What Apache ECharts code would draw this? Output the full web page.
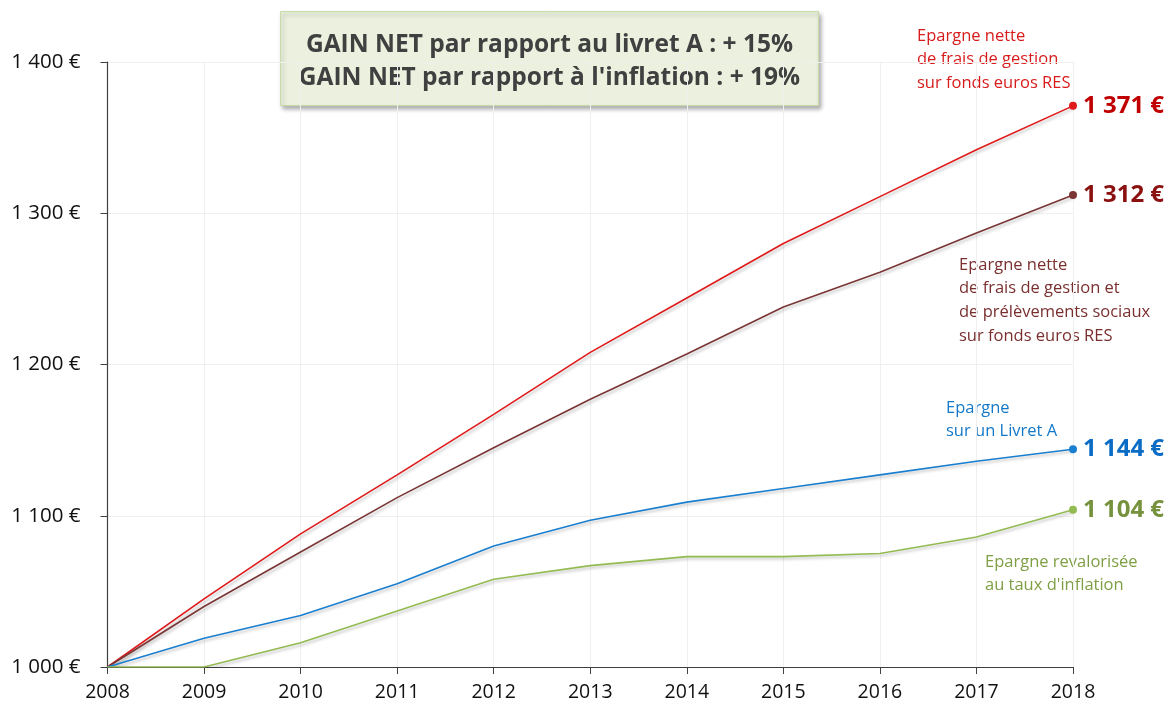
<!DOCTYPE html>
<html>
<head>
<meta charset="utf-8">
<script src="https://cdn.jsdelivr.net/npm/echarts@6/dist/echarts.min.js"></script>
<style>
    html, body { margin: 0; padding: 0; background: #fff; }
    #myEchart { width: 1176px; height: 707px; }
</style>
</head>
<body>
<div id="myEchart"></div>
<script>
var years = ['2008', '2009', '2010', '2011', '2012', '2013', '2014', '2015', '2016', '2017', '2018'];
var fondsEuros = [1000, 1045, 1088, 1127, 1167, 1208, 1244, 1280, 1311, 1342, 1371];
var fondsEurosNet = [1000, 1040, 1076, 1112, 1145, 1177, 1207, 1238, 1261, 1287, 1312];
var livretA = [1000, 1019, 1034, 1055, 1080, 1097, 1109, 1118, 1127, 1136, 1144];
var inflation = [1000, 1000, 1016, 1037, 1058, 1067, 1073, 1073, 1075, 1086, 1104];
var yTicks = [1000, 1100, 1200, 1300, 1400];

var font = 'Open Sans';

// 1371 -> "1 371 €"
function euro(v) {
    var s = String(Math.round(v));
    return s.replace(/\B(?=(\d{3})+(?!\d))/g, ' ') + ' €';
}

function makeSeries(name, data, lineColor, labelColor) {
    var last = data.length - 1;
    return {
        name: name,
        type: 'line',
        data: data,
        symbol: 'circle',
        showAllSymbol: true,
        symbolSize: function (v, p) {
            return p.dataIndex === last ? 8 : 0;
        },
        itemStyle: { color: lineColor },
        lineStyle: {
            color: lineColor,
            width: 1.6,
            shadowColor: 'rgba(0,0,0,0.25)',
            shadowBlur: 3,
            shadowOffsetX: 2,
            shadowOffsetY: 2
        },
        endLabel: {
            show: true,
            distance: 10,
            formatter: function (p) { return euro(p.value); },
            color: labelColor,
            fontFamily: font,
            fontWeight: 'bold',
            fontSize: 24
        },
        animation: false
    };
}

function note(lines, x, y, color) {
    return {
        type: 'text',
        left: x,
        top: y,
        style: {
            text: lines.join('\n'),
            fill: color,
            fontFamily: font,
            fontSize: 16.5,
            lineHeight: 23.8
        }
    };
}

var chartPaper = echarts.init(document.getElementById('myEchart'));
var option = {
    backgroundColor: '#fff',
    animation: false,
    grid: {
        left: 107.5,
        right: 103,
        top: 62,
        bottom: 40
    },
    xAxis: {
        type: 'category',
        data: years,
        boundaryGap: false,
        axisLine: { lineStyle: { color: '#404040', width: 1.2 } },
        axisTick: { show: true, length: 7, lineStyle: { color: '#404040' } },
        axisLabel: { color: '#111', fontFamily: font, fontSize: 19.5, margin: 15 },
        splitLine: { show: true, lineStyle: { color: '#efefef' } }
    },
    yAxis: {
        type: 'value',
        min: yTicks[0],
        max: yTicks[yTicks.length - 1],
        interval: 100,
        axisLine: { show: true, lineStyle: { color: '#404040', width: 1.2 } },
        axisTick: { show: true, length: 7, lineStyle: { color: '#404040' } },
        axisLabel: {
            color: '#111',
            fontFamily: font,
            fontSize: 20.5,
            margin: 27,
            formatter: function (v) { return euro(v); }
        },
        splitLine: { show: true, lineStyle: { color: '#efefef' } }
    },
    series: [
        makeSeries('fonds euros RES', fondsEuros, '#e01a1a', '#c00000'),
        makeSeries('fonds euros RES net', fondsEurosNet, '#7a3535', '#8b1010'),
        makeSeries('Livret A', livretA, '#1b7fcf', '#0a6cc4'),
        makeSeries('inflation', inflation, '#93bb52', '#76923c')
    ],
    graphic: [
        {
            type: 'group',
            left: 280,
            top: 11,
            children: [
                {
                    type: 'rect',
                    shape: { x: 0, y: 0, width: 538, height: 94 },
                    style: {
                        fill: '#ebf1de',
                        stroke: '#c9d9a8',
                        lineWidth: 1,
                        shadowColor: 'rgba(0,0,0,0.3)',
                        shadowBlur: 4,
                        shadowOffsetX: 2,
                        shadowOffsetY: 3
                    }
                },
                {
                    type: 'text',
                    x: 269,
                    y: 50,
                    style: {
                        text: 'GAIN NET par rapport au livret A : + 15%\nGAIN NET par rapport à l\'inflation : + 19%',
                        fill: '#404040',
                        fontFamily: font,
                        fontWeight: 'bold',
                        fontSize: 24.5,
                        lineHeight: 33,
                        align: 'center',
                        verticalAlign: 'middle'
                    }
                }
            ]
        },
        note(['Epargne nette', 'de frais de gestion', 'sur fonds euros RES'], 917, 24, '#d81b1b'),
        note(['Epargne nette', 'de frais de gestion et', 'de prélèvements sociaux', 'sur fonds euros RES'], 959, 253, '#7a2f2f'),
        note(['Epargne', 'sur un Livret A'], 946, 396, '#1479c9'),
        note(['Epargne revalorisée', 'au taux d\'inflation'], 985, 550, '#7f9f45')
    ]
};
chartPaper.setOption(option);
</script>
</body>
</html>
